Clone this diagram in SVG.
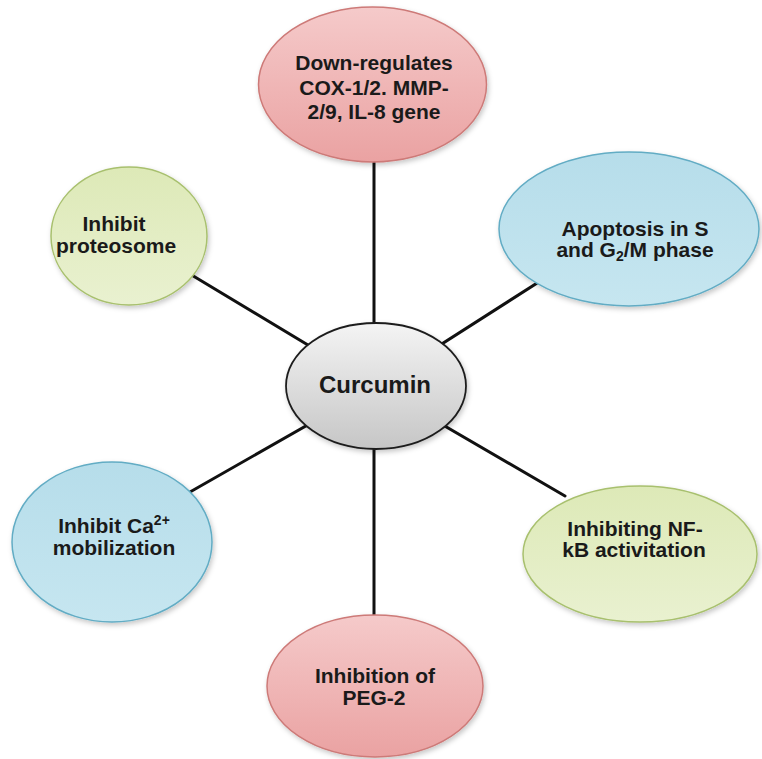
<svg xmlns="http://www.w3.org/2000/svg" width="762" height="759" viewBox="0 0 762 759">
<style>
.t{font-family:"Liberation Sans",Arial,sans-serif;font-weight:bold;font-size:21px;fill:#1a1a1a;text-anchor:middle}
.big{font-size:24px}
.sm{font-size:14px}
.conn line{stroke:#111;stroke-width:3;stroke-linecap:round}
.pink{fill:url(#gPink);stroke:#cd7a78;stroke-width:1.5}
.blue{fill:url(#gBlue);stroke:#62acc4;stroke-width:1.5}
.green{fill:url(#gGreen);stroke:#a8c06e;stroke-width:1.5}
.grey{fill:url(#gGrey);stroke:#1e1e1e;stroke-width:1.8}
</style>
<defs>
<linearGradient id="gPink" x1="0" y1="0" x2="0" y2="1"><stop offset="0" stop-color="#f5caca"/><stop offset="1" stop-color="#eaa2a2"/></linearGradient>
<linearGradient id="gBlue" x1="0" y1="0" x2="0" y2="1"><stop offset="0" stop-color="#b6ddea"/><stop offset="1" stop-color="#c6e6f0"/></linearGradient>
<linearGradient id="gGreen" x1="0" y1="0" x2="0" y2="1"><stop offset="0" stop-color="#dde9b7"/><stop offset="1" stop-color="#e9f1d0"/></linearGradient>
<linearGradient id="gGrey" x1="0" y1="0" x2="0" y2="1"><stop offset="0" stop-color="#f4f4f4"/><stop offset="1" stop-color="#c6c6c6"/></linearGradient>
<filter id="sh" x="-10%" y="-10%" width="125%" height="125%"><feDropShadow dx="1.5" dy="2.5" stdDeviation="2.5" flood-color="#000" flood-opacity="0.22"/></filter>
</defs>
<rect width="762" height="759" fill="#ffffff"/>
<g id="connectors" class="conn">
<line x1="374" y1="386" x2="374" y2="150"/>
<line x1="376" y1="386" x2="545" y2="278"/>
<line x1="376" y1="386" x2="565" y2="496"/>
<line x1="374" y1="386" x2="374" y2="625"/>
<line x1="376" y1="386" x2="190" y2="492"/>
<line x1="376" y1="386" x2="180" y2="268"/>
</g>
<g id="node-top">
<ellipse class="pink" filter="url(#sh)" cx="372.5" cy="84.5" rx="114" ry="77.5"/>
<text class="t" x="374" y="70">Down-regulates</text>
<text class="t" x="374" y="94.5">COX-1/2. MMP-</text>
<text class="t" x="374" y="119">2/9, IL-8 gene</text>
</g>
<g id="node-apoptosis">
<ellipse class="blue" filter="url(#sh)" cx="629" cy="229" rx="130" ry="77"/>
<text class="t" x="635" y="236">Apoptosis in S</text>
<text class="t" x="635" y="257">and G<tspan class="sm" baseline-shift="-4">2</tspan>/M phase</text>
</g>
<g id="node-nfkb">
<ellipse class="green" filter="url(#sh)" cx="640" cy="554" rx="117" ry="68"/>
<text class="t" x="635" y="536">Inhibiting NF-</text>
<text class="t" x="634" y="557">kB activitation</text>
</g>
<g id="node-peg">
<ellipse class="pink" filter="url(#sh)" cx="375" cy="686" rx="108" ry="71"/>
<text class="t" x="375" y="683">Inhibition of</text>
<text class="t" x="374" y="705">PEG-2</text>
</g>
<g id="node-ca">
<ellipse class="blue" filter="url(#sh)" cx="112" cy="542" rx="100" ry="80"/>
<text class="t" x="114" y="533">Inhibit Ca<tspan class="sm" baseline-shift="8">2+</tspan></text>
<text class="t" x="114" y="555">mobilization</text>
</g>
<g id="node-proteosome">
<ellipse class="green" filter="url(#sh)" cx="129" cy="236" rx="78" ry="69"/>
<text class="t" x="114" y="231">Inhibit</text>
<text class="t" x="116" y="253">proteosome</text>
</g>
<g id="node-curcumin">
<ellipse class="grey" filter="url(#sh)" cx="376" cy="386" rx="90" ry="63"/>
<text class="t big" x="375" y="393">Curcumin</text>
</g>
</svg>
